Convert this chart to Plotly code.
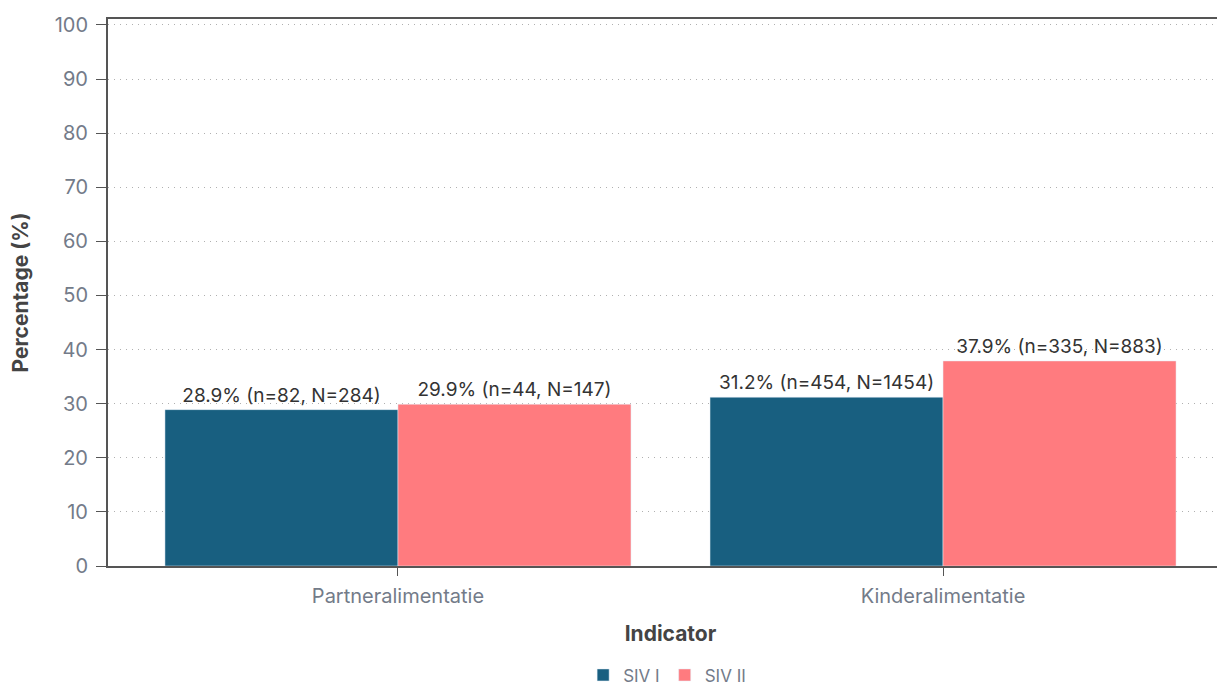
import plotly.graph_objects as go

categories = ["Partneralimentatie", "Kinderalimentatie"]
series_names = ["SIV I", "SIV II"]
siv1_pct = [28.9, 31.2]
siv1_n = [82, 454]
siv1_N = [284, 1454]
siv2_pct = [29.9, 37.9]
siv2_n = [44, 335]
siv2_N = [147, 883]
y_ticks = [0, 10, 20, 30, 40, 50, 60, 70, 80, 90, 100]

colors = ["#185f80", "#ff7b7f"]
font_family = "Inter, Open Sans, sans-serif"


def labels(pct, n, N):
    return [f"{p}% (n={a}, N={b})" for p, a, b in zip(pct, n, N)]


fig = go.Figure()

# --- SIV I ---
fig.add_trace(go.Bar(
    x=categories,
    y=siv1_pct,
    name=series_names[0],
    marker=dict(color=colors[0]),
    text=labels(siv1_pct, siv1_n, siv1_N),
    textposition="outside",
    cliponaxis=False,
    textfont=dict(size=19, color="#333333"),
))

# --- SIV II ---
fig.add_trace(go.Bar(
    x=categories,
    y=siv2_pct,
    name=series_names[1],
    marker=dict(color=colors[1]),
    text=labels(siv2_pct, siv2_n, siv2_N),
    textposition="outside",
    cliponaxis=False,
    textfont=dict(size=19, color="#333333"),
))

fig.update_layout(
    barmode="group",
    bargap=0.145,
    bargroupgap=0,
    uniformtext=dict(minsize=19, mode="show"),
    width=1225,
    height=689,
    margin=dict(l=100, r=0, t=11, b=131),
    paper_bgcolor="white",
    plot_bgcolor="white",
    font=dict(family=font_family, color="#737b89"),
    xaxis=dict(
        range=[-0.532, 1.532],
        automargin=False,
        showline=True,
        linecolor="#555555",
        linewidth=2,
        mirror=True,
        ticks="outside",
        ticklen=8,
        ticklabelstandoff=3,
        tickcolor="#555555",
        tickfont=dict(size=20, color="#737b89"),
        title=dict(text="<b>Indicator</b>", font=dict(size=21, color="#444444"), standoff=19),
    ),
    yaxis=dict(
        range=[0, 101.1],
        automargin=False,
        tickvals=y_ticks,
        showline=True,
        linecolor="#555555",
        linewidth=2,
        mirror=True,
        ticks="outside",
        ticklen=10,
        ticklabelstandoff=4,
        tickcolor="#555555",
        tickfont=dict(size=20, color="#737b89"),
        showgrid=True,
        gridcolor="#b0b0b0",
        griddash="1px,5px",
        gridwidth=1,
        zeroline=False,
        title=dict(text="<b>Percentage (%)</b>", font=dict(size=21, color="#444444"), standoff=24),
    ),
    showlegend=True,
    legend=dict(
        orientation="h",
        xanchor="center",
        x=0.497,
        yanchor="middle",
        y=-0.2,
        font=dict(size=17, color="#737b89"),
    ),
)

fig.write_html("out.html")
